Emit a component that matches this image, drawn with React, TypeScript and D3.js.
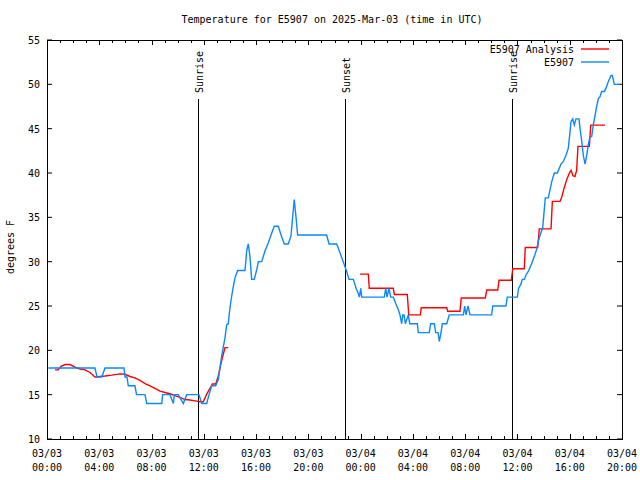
import React from "react";
import * as d3 from "d3";

// hours since 2025-03-03 00:00 UTC
const obsHours = [0.10,3.67,3.83,4.19,4.44,5.89,5.97,6.12,6.22,6.73,6.85,7.50,7.63,8.78,8.85,9.41,9.67,9.74,10.05,10.43,10.69,11.63,11.84,12.22,12.40,12.60,12.91,13.11,13.37,13.62,13.75,13.87,14.00,14.13,14.26,14.39,14.59,15.15,15.28,15.40,15.53,15.66,15.86,16.05,16.17,16.43,16.68,16.93,17.19,17.39,17.70,17.91,18.16,18.46,18.67,18.80,18.92,19.05,19.18,21.40,21.58,22.17,22.42,22.67,22.93,23.11,23.44,23.65,23.82,23.90,24.01,24.08,25.81,25.92,26.02,26.17,26.30,26.50,26.63,26.76,26.88,27.01,27.14,27.22,27.32,27.42,27.65,27.76,28.34,28.41,29.25,29.36,29.64,29.74,29.92,30.02,30.15,30.25,30.59,30.78,31.86,31.96,32.06,32.22,32.37,34.03,34.11,35.12,35.22,35.99,36.09,36.25,36.37,36.54,36.65,36.83,37.01,37.14,37.34,37.47,37.60,37.73,37.93,38.03,38.13,38.36,38.49,38.62,38.82,39.05,39.33,39.51,39.72,39.89,39.97,40.10,40.23,40.35,40.48,40.71,40.79,40.92,41.04,41.17,41.30,41.42,41.55,41.68,41.80,41.93,42.06,42.19,42.32,42.44,42.65,42.78,42.95,43.16,43.26,43.41,43.85];
const obsTemps = [18,18,17,17,18,18,17,17,16,16,15,15,14,14,15,15,14,15,15,14,15,15,14,14,15,16,16,16.7,19.4,21.4,22.9,23,24.8,26.1,27.2,28.2,29,29,31.2,32,30.6,28,28,29.1,30,30,31.2,32.1,33.2,34,34,33,32,32,32.9,35.1,37,35.1,33,33,32,32,31,30,28.9,28,28,27,26.4,26,27,26,26,27,26,27,26,26,25.5,25,24.6,24,23,24,24,23,24,23,23,22,22,23,23,22,22,21,22,23,23,24,24,25,24,25,24,24,25,25,26,26,27,27.4,28,28,28.5,28.9,29.5,30,30.8,31.4,32.3,33,33.8,35.5,37.2,37.2,38.1,39,40,40,41,41.3,42,42.8,43.9,45.8,46.1,45.4,46.1,46.1,45,43.6,42,41,42,43.2,44.1,44.1,45.4,46.4,47.5,48.4,48.6,49.2,49.2,49.6,50.3,51,51,50,50];

const anaHours1 = [0.61,0.86,1.07,1.38,1.76,2.14,2.53,2.91,3.29,3.67,4.06,4.44,4.95,5.59,5.97,6.35,6.73,7.12,7.50,7.88,8.26,8.65,9.03,9.41,9.79,10.18,10.56,10.94,11.33,11.71,11.96,12.22,12.47,12.65,12.91,13.11,13.32,13.49,13.62,13.87];
const anaTemps1 = [17.8,17.8,18.2,18.4,18.4,18.1,17.9,17.8,17.5,17.0,17.05,17.1,17.2,17.35,17.3,17.05,16.9,16.6,16.25,16.0,15.7,15.4,15.25,15.1,14.9,14.7,14.45,14.4,14.3,14.2,14.2,15.06,15.7,16.2,16.2,17.1,18.6,19.56,20.3,20.3];
const anaHours2 = [23.95,24.59,24.66,26.50,26.58,27.57,27.68,28.57,28.64,30.59,30.66,31.60,31.70,33.54,33.65,34.49,34.59,35.53,35.59,35.64,36.52,36.60,37.55,37.67,38.57,38.67,39.26,39.39,39.59,39.77,39.97,40.10,40.25,40.40,40.53,40.63,41.50,41.61,42.70];
const anaTemps2 = [28.6,28.6,27,27,26.3,26.3,24,24,24.8,24.8,24.4,24.4,25.9,25.9,26.8,26.8,27.9,27.9,28.6,29.2,29.2,31.6,31.6,33.7,33.7,36.8,36.8,37.3,38.4,39.25,40.0,40.3,39.7,39.6,40.3,43,43,45.4,45.4];

const sunEventNames = ["Sunrise", "Sunset", "Sunrise"];
const sunEventHours = [11.58, 22.83, 35.61];

const yTicks = [10, 15, 20, 25, 30, 35, 40, 45, 50, 55];
const legendLabels = ["E5907 Analysis", "E5907"];

const RED = "#ff0000";
const BLUE = "#0a88ff";
const FONT = "DejaVu Sans Mono";

const W = 640, H = 480;
const L = 47, R = 622, T = 40, B = 439;

const start = Date.UTC(2025, 2, 3, 0, 0);
const toDate = (h: number) => new Date(start + h * 3600000);

export default function App() {
  const x = d3.scaleUtc().domain([toDate(0), toDate(44)]).range([L, R]);
  const y = d3.scaleLinear().domain([10, 55]).range([B, T]);
  const line = d3.line<[number, number]>().x(d => x(toDate(d[0]))).y(d => y(d[1]));
  const obs = obsHours.map((h, i) => [h, obsTemps[i]] as [number, number]);
  const a1 = anaHours1.map((h, i) => [h, anaTemps1[i]] as [number, number]);
  const a2 = anaHours2.map((h, i) => [h, anaTemps2[i]] as [number, number]);
  const hourTicks = x.ticks(d3.utcHour.every(1)!);
  const fmtDay = d3.utcFormat("%m/%d");
  const fmtTime = d3.utcFormat("%H:%M");

  return (
    <svg width={W} height={H} style={{ position: "absolute", left: 0, top: 0, background: "#fff" }} fontFamily={FONT} fontSize={10}>
      <rect x={0} y={0} width={W} height={H} fill="#fff" />
      <text x={332} y={23} textAnchor="middle">Temperature for E5907 on 2025-Mar-03 (time in UTC)</text>
      {/* y ticks */}
      {yTicks.map(t => (
        <g key={t}>
          <line x1={L} x2={L + 5} y1={y(t)} y2={y(t)} stroke="#000" />
          <line x1={R - 5} x2={R} y1={y(t)} y2={y(t)} stroke="#000" />
          <text x={40} y={y(t) + 4} textAnchor="end">{t}</text>
        </g>
      ))}
      {/* x ticks */}
      {hourTicks.map((d, i) => {
        const major = d.getUTCHours() % 4 === 0;
        const len = major ? 5 : 3;
        const xx = Math.round(x(d)) + 0.5;
        return (
          <g key={i}>
            <line x1={xx} x2={xx} y1={B} y2={B - len} stroke="#000" />
            <line x1={xx} x2={xx} y1={T} y2={T + len} stroke="#000" />
            {major && (
              <text x={x(d)} y={457} textAnchor="middle">
                <tspan x={x(d)}>{fmtDay(d)}</tspan>
                <tspan x={x(d)} dy={14}>{fmtTime(d)}</tspan>
              </text>
            )}
          </g>
        );
      })}
      <text transform={`translate(14,247) rotate(-90)`} textAnchor="middle">degrees F</text>
      {/* sun events */}
      {sunEventHours.map((h, i) => {
        const xx = Math.round(x(toDate(h))) + 0.5;
        return (
          <g key={i}>
            <line x1={xx} x2={xx} y1={99} y2={B} stroke="#000" />
            <text transform={`translate(${xx + 4},93) rotate(-90)`} textAnchor="start">{sunEventNames[i]}</text>
          </g>
        );
      })}
      <path d={line(a1) || ""} fill="none" stroke={RED} strokeWidth={1.4} />
      <path d={line(a2) || ""} fill="none" stroke={RED} strokeWidth={1.4} />
      <path d={line(obs) || ""} fill="none" stroke={BLUE} strokeWidth={1.4} />
      {/* legend */}
      {legendLabels.map((lab, i) => (
        <g key={lab}>
          <text x={574} y={53 + i * 13} textAnchor="end">{lab}</text>
          <line x1={581} x2={609} y1={49 + i * 13} y2={49 + i * 13} stroke={i === 0 ? RED : BLUE} strokeWidth={1.4} />
        </g>
      ))}
      <rect x={L + 0.5} y={T + 0.5} width={R - L} height={B - T} fill="none" stroke="#000" />
    </svg>
  );
}
